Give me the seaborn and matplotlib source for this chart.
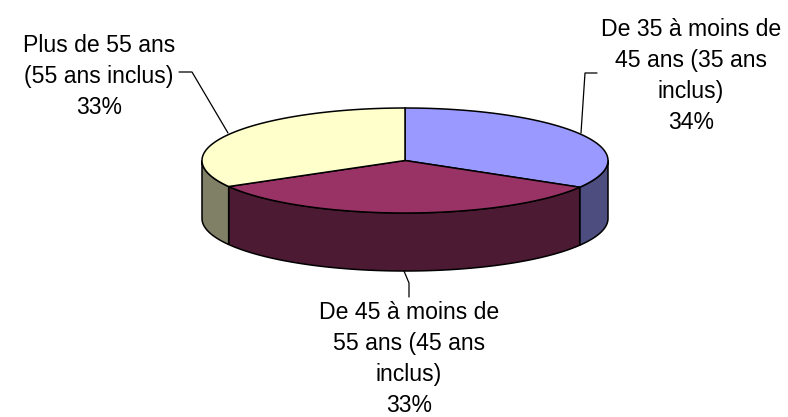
import matplotlib.pyplot as plt
import numpy as np
import seaborn as sns
from matplotlib.patches import Polygon

categories = ["De 35 à moins de\n45 ans (35 ans\ninclus)", "De 45 à moins de\n55 ans (45 ans\ninclus)", "Plus de 55 ans\n(55 ans inclus)"]
shares = [33.5, 33.25, 33.25]
top_colors = ["#9999ff", "#993366", "#ffffcc"]
side_colors = ["#4d4d80", "#4d1a33", "#808066"]

sns.set_theme(style="white")
plt.rcParams["font.family"] = ["Liberation Sans", "DejaVu Sans"]

CX, CY, RX, RY, DEPTH = 405, 160.5, 203, 52.5, 58


def rim(a0, a1, n=120):
    # angles clockwise from 12 o'clock, pixel coordinates
    t = np.radians(np.linspace(a0, a1, n))
    return np.column_stack([CX + RX * np.sin(t), CY - RY * np.cos(t)])


fig, ax = plt.subplots(figsize=(7.88, 4.17), dpi=100)
ax.set_xlim(0, 788)
ax.set_ylim(417, 0)
ax.axis("off")
fig.subplots_adjust(0, 0, 1, 1)

edges = np.cumsum([0] + shares) / sum(shares) * 360
lw = 1.1

# side walls, only the part of each slice facing the viewer
for i in range(3):
    a0, a1 = max(edges[i], 90), min(edges[i + 1], 270)
    if a1 <= a0:
        continue
    arc = rim(a0, a1)
    wall = np.vstack([arc, arc[::-1] + [0, DEPTH]])
    ax.add_patch(Polygon(wall, closed=True, fc=side_colors[i], ec="black", lw=lw))

# top faces
for i in range(3):
    face = np.vstack([[CX, CY], rim(edges[i], edges[i + 1])])
    ax.add_patch(Polygon(face, closed=True, fc=top_colors[i], ec="black", lw=lw))

# labels and leader lines
text_style = dict(ha="center", va="top", fontsize=16.6, color="black", linespacing=1.45)
ax.text(691, 18, f"{categories[0]}\n{shares[0]:.0f}%", **text_style)
# bottom label sits a little higher than the reference so it stays inside the figure
ax.text(409, 301, f"{categories[1]}\n{shares[1]:.0f}%", **text_style)
ax.text(99, 34, f"{categories[2]}\n{shares[2]:.0f}%", **text_style)
ax.plot([581, 585, 597], [133, 73, 73], color="black", lw=0.9)
ax.plot([404, 409, 409], [271, 283, 297], color="black", lw=0.9)
ax.plot([228, 192, 179], [133, 72, 72], color="black", lw=0.9)

fig.savefig("out.png", dpi=100)
